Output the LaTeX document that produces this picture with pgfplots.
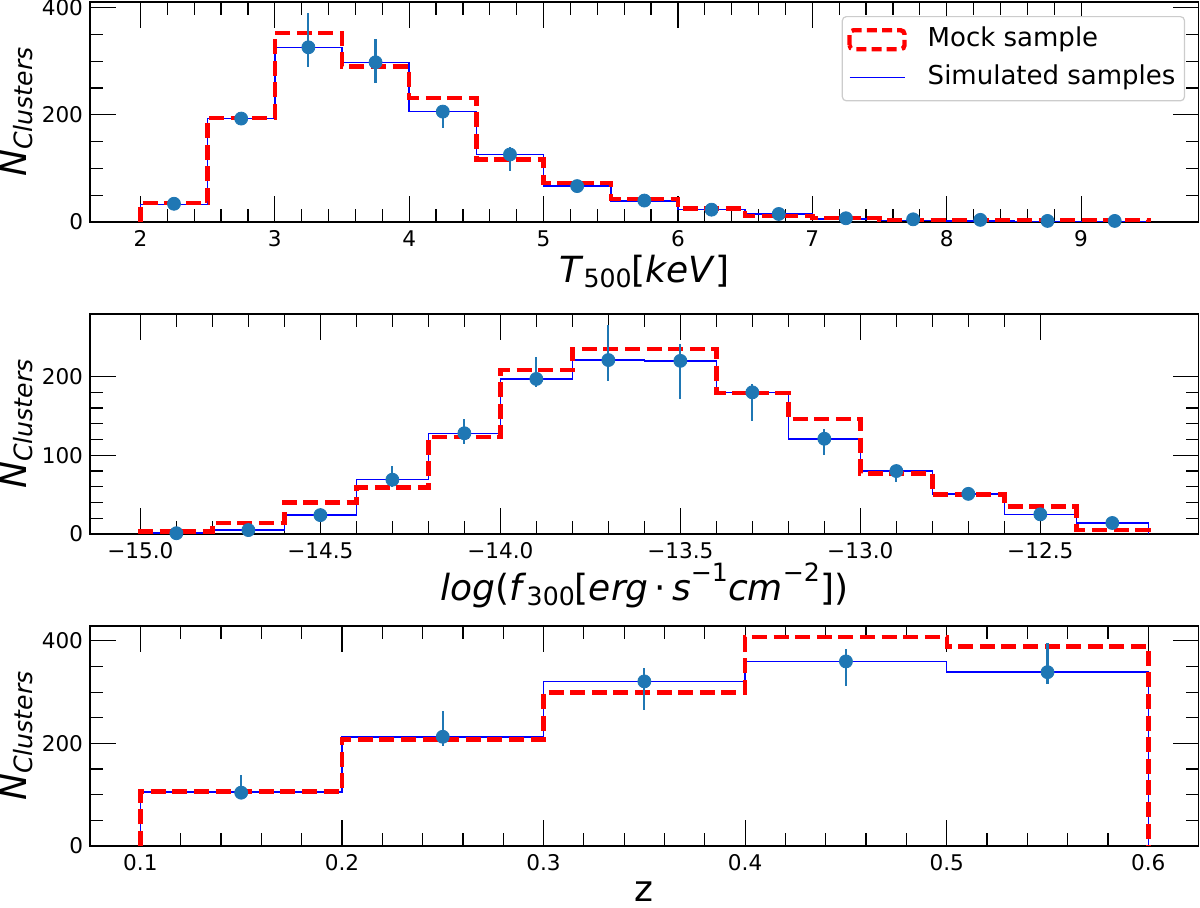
\documentclass[border=0pt]{standalone}
\usepackage{fontspec}
\setmainfont{DejaVu Sans}
\usepackage{pgfplots}
\pgfplotsset{compat=1.18}
\definecolor{mplblue}{HTML}{1F77B4}
\definecolor{mockred}{RGB}{255,0,0}
\newcommand{\lab}{\fontsize{18}{21}\selectfont}
\newcommand{\scr}{\fontsize{12.6}{14}\selectfont}
\newcommand{\ylab}{\lab\textit{N}\raisebox{-3pt}{\scr\textit{Clusters}}}
\pgfplotsset{
  myax/.style={
    scale only axis, width=554.35pt, height=110pt,
    ymin=0, tick align=inside,
    major tick length=13pt, minor tick length=6.5pt,
    every tick/.style={black, line width=0.6pt},
    axis line style={black, line width=0.6pt},
    tick label style={font=\fontsize{10.8}{12}\selectfont},
    /pgf/number format/assume math mode=true,
    xticklabel style={anchor=base, inner sep=0pt, yshift=-12.4pt},
    yticklabel style={anchor=east, inner sep=0pt, xshift=-3.3pt},
    ylabel={\ylab},
    ylabel style={at={(axis description cs:-0.0665,0.5)}, anchor=center, inner sep=0pt},
    xlabel style={at={(axis description cs:0.5,0)}, anchor=base, inner sep=0pt},
  },
  simstep/.style={blue, line width=0.75pt, const plot},
  mockstep/.style={mockred, line width=2.2pt, dash pattern=on 7.5pt off 3.3pt, const plot},
  pts/.style={forget plot, only marks, mark=*, mark size=3.25pt, mplblue,
    error bars/.cd, y dir=both, y explicit, error mark=none,
    error bar style={line width=1.1pt, mplblue}},
}
\begin{document}
\begin{tikzpicture}
\useasboundingbox (0,0) rectangle (600pt,-453.5pt);
% ---------------- top panel ----------------
\begin{axis}[myax, at={(45pt,-1pt)}, anchor=north west,
  xmin=1.625, xmax=9.875, ymax=410.5,
  xtick={2,3,4,5,6,7,8,9}, xticklabels={2,3,4,5,6,7,8,9},
  ytick={0,200,400}, yticklabels={0,200,400},
  minor x tick num=4, minor y tick num=3,
  xlabel={\lab\textit{T}\raisebox{-2.5pt}{\scr 500}[\textit{keV}]},
  xlabel style={yshift=-30pt},
  reverse legend,
  legend cell align=left,
  legend style={at={(0.9877,0.9363)}, anchor=north east,
    draw=black!20, line width=0.6pt, rounded corners=2pt, fill=white,
    font=\fontsize{13}{15}\selectfont,
    inner xsep=2.5pt, inner ysep=2.8pt, row sep=1.5pt, column sep=8.5pt,
    nodes={inner sep=2pt, text height=10pt, text depth=3.5pt}},
]
\addplot[simstep, legend image code/.code={\draw[blue, line width=0.75pt] (0pt,0pt) -- (27.5pt,0pt);}] coordinates {
(2.0,0) (2.0,33) (2.5,193) (3.0,326) (3.5,298) (4.0,206) (4.5,126) (5.0,67) (5.5,39)
(6.0,23) (6.5,15) (7.0,6) (7.5,3) (8.0,2) (8.5,1) (9.0,1) (9.5,1) (9.5,0)};
\addplot[mockstep, legend image code/.code={\draw[mockred, line width=2.2pt, dash pattern=on 5pt off 2.6pt] (0pt,-4.75pt) rectangle (27.5pt,4.75pt);}] coordinates {
(2.0,0) (2.0,36) (2.5,194) (3.0,353) (3.5,290) (4.0,231) (4.5,117) (5.0,73) (5.5,43)
(6.0,25) (6.5,11) (7.0,7) (7.5,4) (8.0,4) (8.5,4) (9.0,4) (9.5,4) (9.5,0)};
\addplot[pts] coordinates {
(2.25,34) += (0,4) -= (0,4)
(2.75,193) += (0,6) -= (0,6)
(3.25,326) += (0,64) -= (0,36)
(3.75,298) += (0,43) -= (0,39)
(4.25,206) += (0,10) -= (0,31)
(4.75,126) += (0,14) -= (0,30)
(5.25,67) += (0,5) -= (0,5)
(5.75,40) += (0,4) -= (0,4)
(6.25,23) += (0,3) -= (0,3)
(6.75,15) += (0,3) -= (0,3)
(7.25,7) += (0,2) -= (0,2)
(7.75,5) += (0,2) -= (0,2)
(8.25,4) += (0,1) -= (0,1)
(8.75,2) += (0,1) -= (0,1)
(9.25,2) += (0,1) -= (0,1)};
\legend{Simulated samples, Mock sample}
\end{axis}
% ---------------- middle panel ----------------
\begin{axis}[myax, at={(45pt,-157pt)}, anchor=north west,
  xmin=-15.14, xmax=-12.06, ymax=279.5,
  xtick={-15,-14.5,-14,-13.5,-13,-12.5},
  xticklabels={−15.0,−14.5,−14.0,−13.5,−13.0,−12.5},
  ytick={0,100,200}, yticklabels={0,100,200},
  minor x tick num=4, minor y tick num=4,
  xlabel={\lab\textit{log}(\textit{f}\raisebox{-2.5pt}{\scr 300}[\textit{erg}\,·\,\textit{s}\raisebox{9.5pt}{\scr −1}\textit{cm}\raisebox{9.5pt}{\scr −2}])},
  xlabel style={yshift=-33pt},
]
\addplot[simstep] coordinates {
(-15.0,0) (-15.0,1) (-14.8,5) (-14.6,24) (-14.4,69) (-14.2,128) (-14.0,197) (-13.8,221)
(-13.6,220) (-13.4,180) (-13.2,121) (-13.0,80) (-12.8,51) (-12.6,25) (-12.4,14) (-12.2,14) (-12.2,0)};
\addplot[mockstep] coordinates {
(-15.0,0) (-15.0,3) (-14.8,14) (-14.6,40) (-14.4,59) (-14.2,123) (-14.0,208) (-13.8,235)
(-13.6,235) (-13.4,179) (-13.2,146) (-13.0,77) (-12.8,50) (-12.6,35) (-12.4,5) (-12.2,5) (-12.2,0)};
\addplot[pts] coordinates {
(-14.9,1) += (0,1) -= (0,1)
(-14.7,5) += (0,2) -= (0,2)
(-14.5,24) += (0,4) -= (0,4)
(-14.3,69) += (0,18) -= (0,9)
(-14.1,128) += (0,18) -= (0,14)
(-13.9,197) += (0,28) -= (0,10)
(-13.7,221) += (0,45) -= (0,27)
(-13.5,220) += (0,22) -= (0,49)
(-13.3,180) += (0,11) -= (0,36)
(-13.1,121) += (0,13) -= (0,21)
(-12.9,80) += (0,6) -= (0,14)
(-12.7,51) += (0,8) -= (0,6)
(-12.5,25) += (0,3) -= (0,3)
(-12.3,14) += (0,3) -= (0,3)};
\end{axis}
% ---------------- bottom panel ----------------
\begin{axis}[myax, at={(45pt,-313pt)}, anchor=north west,
  xmin=0.075, xmax=0.625, ymax=429,
  xtick={0.1,0.2,0.3,0.4,0.5,0.6}, xticklabels={0.1,0.2,0.3,0.4,0.5,0.6},
  ytick={0,200,400}, yticklabels={0,200,400},
  minor x tick num=4, minor y tick num=3,
  xlabel={\lab z},
  xlabel style={yshift=-27.5pt},
]
\addplot[simstep] coordinates {
(0.1,0) (0.1,105) (0.2,213) (0.3,321) (0.4,360) (0.5,339) (0.6,339) (0.6,0)};
\addplot[mockstep] coordinates {
(0.1,0) (0.1,106) (0.2,208) (0.3,299) (0.4,408) (0.5,389) (0.6,389) (0.6,0)};
\addplot[pts] coordinates {
(0.15,104) += (0,35) -= (0,8)
(0.25,213) += (0,50) -= (0,18)
(0.35,321) += (0,27) -= (0,55)
(0.45,360) += (0,25) -= (0,47)
(0.55,339) += (0,56) -= (0,23)};
\end{axis}
\end{tikzpicture}
\end{document}
